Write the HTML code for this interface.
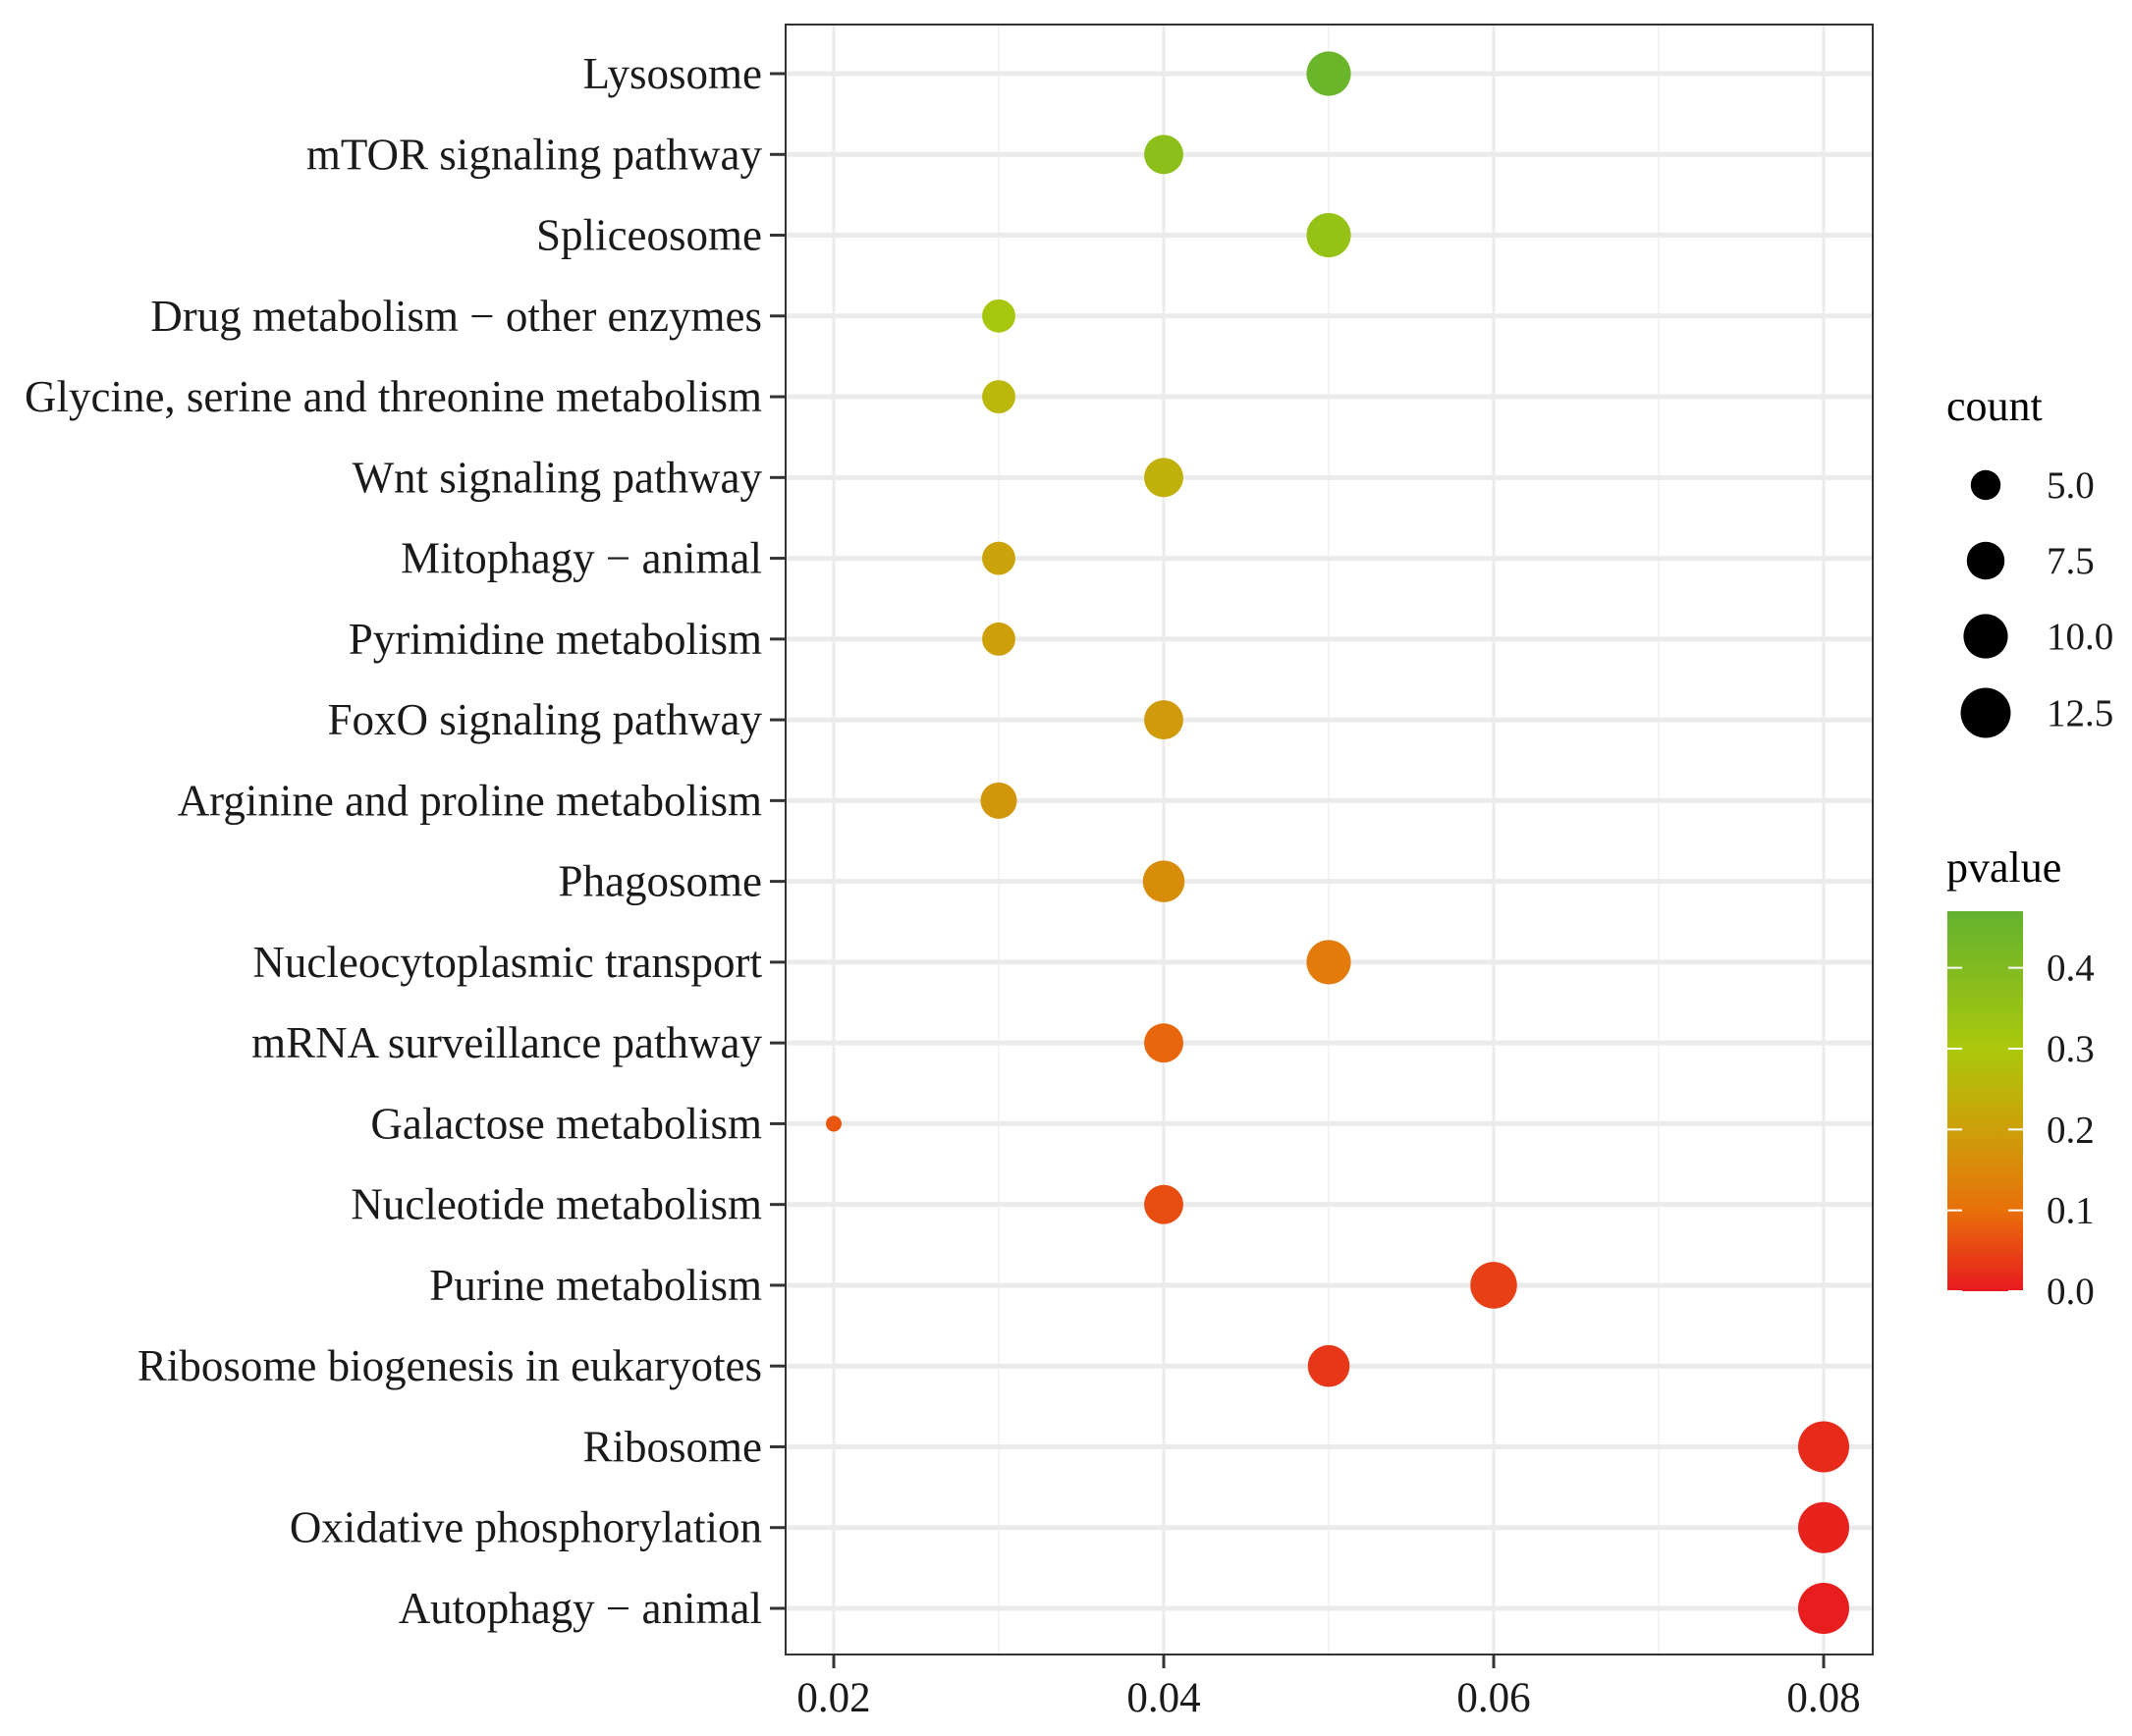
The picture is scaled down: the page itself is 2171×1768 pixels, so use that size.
<!DOCTYPE html>
<html><head><meta charset="utf-8"><style>
html,body{margin:0;padding:0;background:#fff;}
svg{display:block;font-family:"Liberation Serif",serif;}
</style></head><body>
<svg id="chart" width="2171" height="1768" viewBox="0 0 2171 1768"></svg>
<script>
const pathways=["Lysosome","mTOR signaling pathway","Spliceosome","Drug metabolism \u2212 other enzymes","Glycine, serine and threonine metabolism","Wnt signaling pathway","Mitophagy \u2212 animal","Pyrimidine metabolism","FoxO signaling pathway","Arginine and proline metabolism","Phagosome","Nucleocytoplasmic transport","mRNA surveillance pathway","Galactose metabolism","Nucleotide metabolism","Purine metabolism","Ribosome biogenesis in eukaryotes","Ribosome","Oxidative phosphorylation","Autophagy \u2212 animal"];
const geneRatio=[0.05,0.04,0.05,0.03,0.03,0.04,0.03,0.03,0.04,0.03,0.04,0.05,0.04,0.02,0.04,0.06,0.05,0.08,0.08,0.08];
const counts=[10,8,10,6,6,8,6,6,8,7,9,10,8,2,8,11,9,13,13,13];
const pvalues=[0.45,0.37,0.35,0.31,0.26,0.24,0.21,0.2,0.19,0.18,0.16,0.12,0.09,0.07,0.06,0.045,0.035,0.02,0.01,0.005];
const xTicks=[0.02,0.04,0.06,0.08];
const xMinor=[0.03,0.05,0.07];
const sizeBreaks=[5.0,7.5,10.0,12.5];
const pTicks=[0.0,0.1,0.2,0.3,0.4];

const NS="http://www.w3.org/2000/svg";
const svg=document.getElementById('chart');
const L=800,R=1907,T=25,B=1685;
const xs=v=>849+(v-0.02)/0.06*(1857-849);
const ys=i=>75+i*((1638-75)/19);
const cMin=2,cMax=13,rMin=8,rMax=26;
const rs=c=>Math.sqrt(rMin*rMin+(c-cMin)/(cMax-cMin)*(rMax*rMax-rMin*rMin));
const stops=[[0,[232,25,31]],[0.1,[232,112,10]],[0.2,[205,160,10]],[0.3,[171,200,12]],[0.47,[98,178,47]]];
function col(p){for(let i=1;i<stops.length;i++){if(p<=stops[i][0]||i==stops.length-1){const a=stops[i-1],b=stops[i];let t=(p-a[0])/(b[0]-a[0]);t=Math.max(0,Math.min(1,t));return 'rgb('+a[1].map((v,k)=>Math.round(v+(b[1][k]-v)*t)).join(',')+')';}}}
function el(tag,attrs,parent){const e=document.createElementNS(NS,tag);for(const k in attrs)e.setAttribute(k,attrs[k]);(parent||svg).appendChild(e);return e;}

const grid=el('g',{});


xMinor.forEach(v=>{const l=el('line',{x1:xs(v),x2:xs(v),y1:T,y2:B,stroke:'#f0f0f0','stroke-width':1.5},grid);

});
xTicks.forEach(v=>{const l=el('line',{x1:xs(v),x2:xs(v),y1:T,y2:B,stroke:'#ebebeb','stroke-width':3},grid);

});
pathways.forEach((p,i)=>{const l=el('line',{x1:L,x2:R,y1:ys(i),y2:ys(i),stroke:'#ebebeb','stroke-width':5},grid);

});

pathways.forEach((p,i)=>{
const c=el('circle',{cx:xs(geneRatio[i]),cy:ys(i),r:rs(counts[i]),fill:col(pvalues[i])});


const t=el('text',{x:776,y:ys(i)+15,'text-anchor':'end','font-size':45,fill:'#1a1a1a'});
t.textContent=p;


const tk=el('line',{x1:784,x2:L,y1:ys(i),y2:ys(i),stroke:'#333','stroke-width':3});


});
const border=el('rect',{x:L,y:T,width:R-L,height:B-T,fill:'none',stroke:'#333','stroke-width':2});


xTicks.forEach(v=>{
const tk=el('line',{x1:xs(v),x2:xs(v),y1:B,y2:B+14,stroke:'#333','stroke-width':3});


const t=el('text',{x:xs(v),y:1743,'text-anchor':'middle','font-size':43,fill:'#1a1a1a'});
t.textContent=v.toFixed(2);


});

// size legend
const ct=el('text',{x:1982,y:428,'font-size':44,fill:'#000'});ct.textContent='count';


const lgY=[494,571,648,726];
sizeBreaks.forEach((s,i)=>{
const c=el('circle',{cx:2022,cy:lgY[i],r:rs(s),fill:'#000'});


const t=el('text',{x:2084,y:lgY[i]+13,'font-size':39,fill:'#1a1a1a'});t.textContent=s.toFixed(1);


});

// colorbar
const pt=el('text',{x:1982,y:898,'font-size':44,fill:'#000'});pt.textContent='pvalue';


const cbTop=928,cbBot=1315,pMax=0.47;
const py=p=>cbBot-p/pMax*(cbBot-cbTop);
const defs=el('defs',{});
const g=el('linearGradient',{id:'cb',x1:0,y1:1,x2:0,y2:0},defs);
stops.forEach(s=>el('stop',{offset:s[0]/pMax,'stop-color':col(s[0])},g));
const cb=el('rect',{x:1983,y:cbTop,width:77,height:cbBot-cbTop,fill:'url(#cb)'});


pTicks.forEach(p=>{
el('line',{x1:1983,x2:1998,y1:py(p),y2:py(p),stroke:'#fff','stroke-width':2});
el('line',{x1:2045,x2:2060,y1:py(p),y2:py(p),stroke:'#fff','stroke-width':2});
const t=el('text',{x:2084,y:py(p)+13,'font-size':39,fill:'#1a1a1a'});t.textContent=p.toFixed(1);


});
</script>
</body></html>
